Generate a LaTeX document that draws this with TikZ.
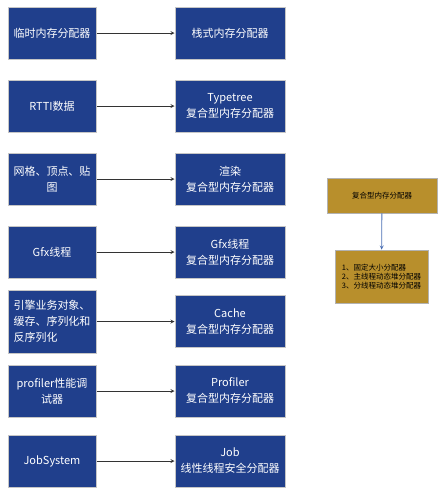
\documentclass[tikz,border=0pt]{standalone}
\usepackage{fontspec}
\setmainfont{Noto Sans CJK SC}
\usepackage{xcolor}
\usetikzlibrary{positioning, arrows}
\definecolor{navy}{HTML}{203F8C}
\definecolor{mustard}{HTML}{B88F2C}
\definecolor{linkblue}{HTML}{4A6EB3}
\tikzstyle{srcbox} = [rectangle, minimum width=88pt, minimum height=52pt, text centered, align=center, draw=gray!45, line width=1pt, fill=navy, text=white, font=\fontsize{11}{16}\selectfont, inner sep=2pt]
\tikzstyle{dstbox} = [srcbox, minimum width=110pt]
\tikzstyle{goldbox} = [rectangle, draw=gray!60, line width=0.8pt, fill=mustard, text=black, font=\fontsize{7.5}{9}\selectfont]
\tikzstyle{arrow} = [line width=0.8pt, draw=black!80, ->, >=stealth]

\begin{document}
\begin{tikzpicture}[x=1pt, y=-1pt]
    \useasboundingbox (0,0) rectangle (443,488);
    \node (src1) [srcbox] at (52,33) {临时内存分配器};
    \node (src2) [srcbox] at (52,106) {RTTI数据};
    \node (src3) [srcbox] at (52,179) {网格、顶点、贴\\图};
    \node (src4) [srcbox] at (52,252) {Gfx线程};
    \node (src5) [srcbox, minimum height=63pt, align=left] at (52,321.5) {引擎业务对象、\\缓存、序列化和\\反序列化};
    \node (src6) [srcbox] at (52,391) {profiler性能调\\试器};
    \node (src7) [srcbox] at (52,461) {JobSystem};
    \node (dst1) [dstbox, right=78pt of src1] {栈式内存分配器};
    \node (dst2) [dstbox, right=78pt of src2] {Typetree\\复合型内存分配器};
    \node (dst3) [dstbox, right=78pt of src3] {渲染\\复合型内存分配器};
    \node (dst4) [dstbox, right=78pt of src4] {Gfx线程\\复合型内存分配器};
    \node (dst5) [dstbox, right=78pt of src5] {Cache\\复合型内存分配器};
    \node (dst6) [dstbox, right=78pt of src6] {Profiler\\复合型内存分配器};
    \node (dst7) [dstbox, right=78pt of src7] {Job\\线性线程安全分配器};
    \foreach \i in {1,...,7}
        \draw[arrow] (src\i)--(dst\i);

    % composite allocator
    \node (comp) [goldbox, minimum width=110pt, minimum height=35pt] at (382,195.5) {复合型内存分配器};
    \node (kinds) [goldbox, minimum width=93pt, minimum height=53pt, align=left] at (381.5,276.5) {1、固定大小分配器\\2、主线程动态堆分配器\\3、分线程动态堆分配器};
    \draw[line width=0.8pt, draw=linkblue, ->, >=stealth] (comp)--(kinds);
\end{tikzpicture}
\end{document}
